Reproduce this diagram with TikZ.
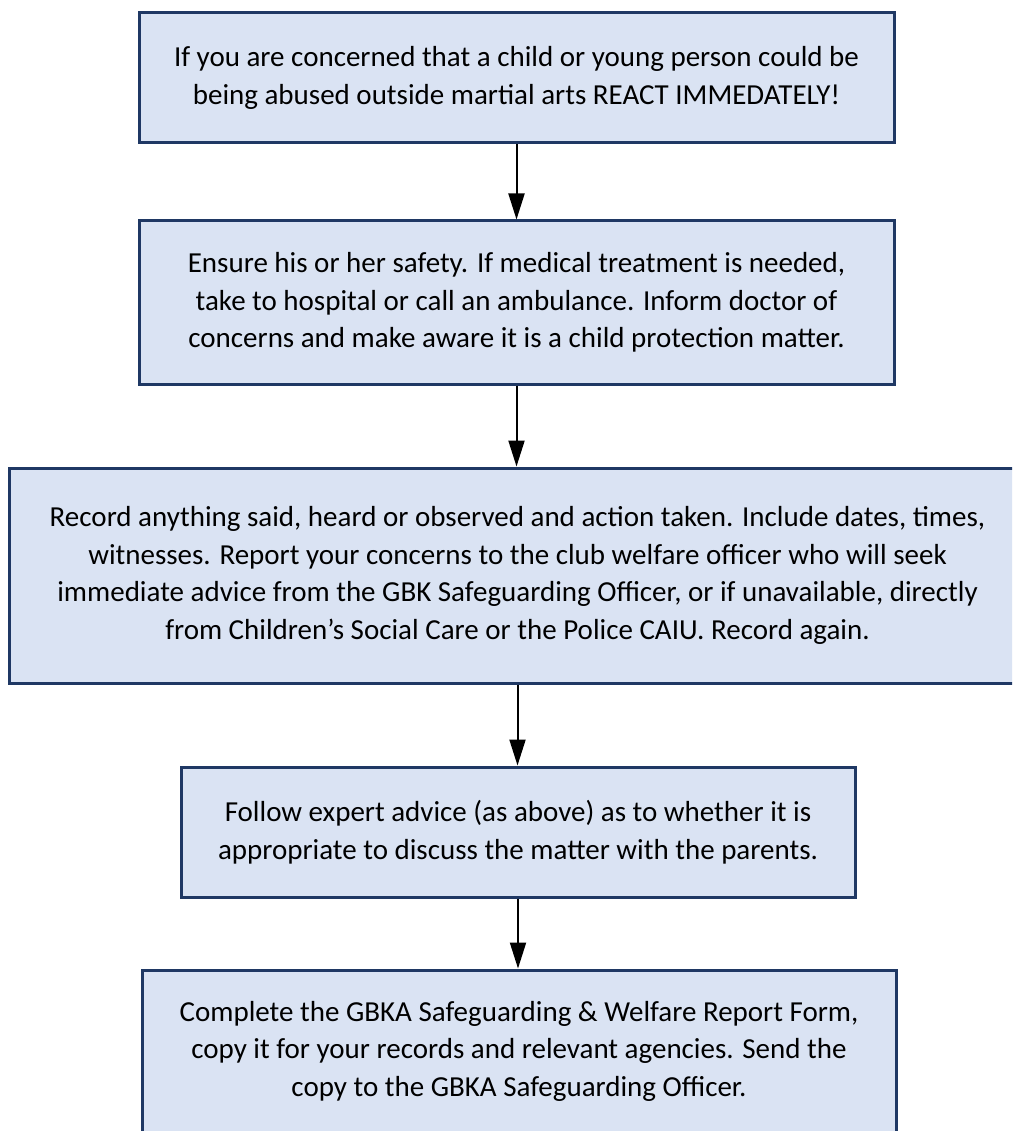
\documentclass[tikz,border=0pt]{standalone}
\usepackage{fontspec}
\setmainfont{Carlito}
\usetikzlibrary{arrows.meta}
\definecolor{boxfill}{HTML}{DAE3F3}
\definecolor{boxline}{HTML}{1F3864}
\tikzset{
  box/.style={draw=boxline, fill=boxfill, line width=3pt, align=center, inner sep=0pt,
    font=\fontsize{29pt}{37.5pt}\selectfont},
  flow/.style={line width=2pt, -{Triangle[length=26pt,width=16pt]}}
}
\begin{document}
\begin{tikzpicture}[x=1pt,y=-1pt]
\clip (0,0) rectangle (1012,1131);
\fill[white] (0,0) rectangle (1012,1131);
\node[box, minimum width=755pt, minimum height=130pt] (b1) at (516.5,78)
  {If you are concerned that a child or young person could be\\being abused outside martial arts REACT IMMEDATELY!};
\node[box, minimum width=755pt, minimum height=163pt] (b2) at (516.5,302.5)
  {Ensure his or her safety. If medical treatment is needed,\\take to hospital or call an ambulance. Inform doctor of\\concerns and make aware it is a child protection matter.};
\node[box, minimum width=1017pt, minimum height=215pt] (b3) at (517.5,575.5)
  {Record anything said, heard or observed and action taken. Include dates, times,\\witnesses. Report your concerns to the club welfare officer who will seek\\immediate advice from the GBK Safeguarding Officer, or if unavailable, directly\\from Children’s Social Care or the Police CAIU. Record again.};
\node[box, minimum width=674pt, minimum height=130pt] (b4) at (518,832)
  {Follow expert advice (as above) as to whether it is\\appropriate to discuss the matter with the parents.};
\node[box, minimum width=754pt, minimum height=162pt] (b5) at (519,1051)
  {Complete the GBKA Safeguarding \& Welfare Report Form,\\copy it for your records and relevant agencies. Send the\\copy to the GBKA Safeguarding Officer.};
\draw[flow] (b1.south) -- (b1.south |- b2.north);
\draw[flow] (b2.south) -- (b2.south |- b3.north);
\draw[flow] (b3.south) -- (b3.south |- b4.north);
\draw[flow] (b4.south) -- (b4.south |- b5.north);
\end{tikzpicture}
\end{document}
